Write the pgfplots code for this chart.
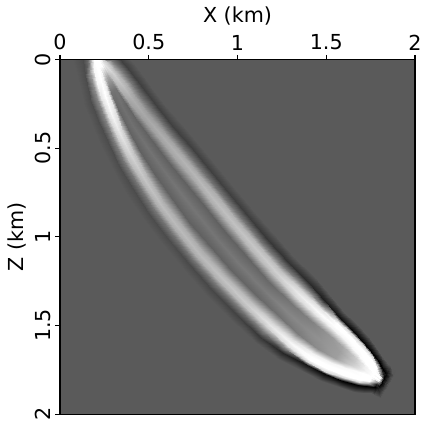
\documentclass[border=0pt]{standalone}
\usepackage{fontspec}
\setmainfont{DejaVu Sans}
\usepackage{pgfplots}
\pgfplotsset{compat=1.18}
\definecolor{bggray}{gray}{0.353}
\begin{document}
\begin{tikzpicture}
\begin{axis}[
  name=ax,
  scale only axis, width=266.25pt, height=266pt,
  xmin=0, xmax=2, ymin=0, ymax=2, y dir=reverse,
  enlargelimits=false,
  axis background/.style={fill=bggray},
  xtick={0,0.5,1,1.5,2}, ytick={0,0.5,1,1.5,2},
  xtick pos=upper, xticklabel pos=upper, ytick pos=left, yticklabel pos=left,
  tick align=outside, major tick length=3.5pt,
  minor tick num=0,
  xlabel={X (km)}, ylabel={Z (km)},
  tick label style={font=\fontsize{15.5}{17}\selectfont},
  label style={font=\fontsize{15.5}{17}\selectfont},
  yticklabel style={rotate=90, anchor=south},
  /pgf/number format/assume math mode=true,
  colormap/blackwhite, point meta min=0, point meta max=1,
  axis line style={line width=0.8pt}, tick style={line width=0.8pt, black},
  axis on top,
]
\addplot[surf, shader=interp, mesh/cols=15, point meta=explicit] table[x=x, y=y, meta=c] {
x y c
0.070 0.000 0.353
0.130 0.000 0.300
0.160 0.000 0.420
0.178 0.000 0.850
0.190 0.000 1.000
0.197 0.000 1.000
0.202 0.000 1.000
0.206 0.000 1.000
0.210 0.000 1.000
0.215 0.000 1.000
0.225 0.000 0.970
0.240 0.000 0.800
0.260 0.000 0.420
0.285 0.000 0.250
0.330 0.000 0.353

0.1006 0.1186 0.353
0.1388 0.0949 0.300
0.1685 0.0764 0.600
0.1923 0.0616 0.970
0.2110 0.0500 1.000
0.2195 0.0447 1.000
0.2246 0.0416 1.000
0.2295 0.0385 1.000
0.2344 0.0354 1.000
0.2395 0.0323 0.950
0.2480 0.0270 0.900
0.2667 0.0154 0.780
0.2905 0.0006 0.450
0.3202 -0.0179 0.250
0.3584 -0.0416 0.353

0.1168 0.1858 0.353
0.1556 0.1630 0.300
0.1858 0.1453 0.550
0.2100 0.1311 0.970
0.2290 0.1200 1.000
0.2445 0.1109 0.950
0.2549 0.1048 0.750
0.2640 0.0995 0.650
0.2731 0.0942 0.650
0.2835 0.0881 0.750
0.2990 0.0790 0.820
0.3180 0.0679 0.720
0.3422 0.0537 0.450
0.3724 0.0360 0.250
0.4112 0.0132 0.353

0.1372 0.2590 0.353
0.1773 0.2386 0.300
0.2085 0.2227 0.515
0.2334 0.2100 0.903
0.2530 0.2000 1.000
0.2726 0.1900 0.918
0.2886 0.1818 0.450
0.3030 0.1745 0.450
0.3174 0.1672 0.450
0.3334 0.1590 0.705
0.3530 0.1490 0.750
0.3726 0.1390 0.690
0.3975 0.1263 0.452
0.4287 0.1104 0.250
0.4688 0.0900 0.353

0.1775 0.3669 0.353
0.2161 0.3437 0.300
0.2461 0.3257 0.507
0.2701 0.3113 0.877
0.2890 0.3000 0.970
0.3079 0.2887 0.885
0.3276 0.2768 0.400
0.3490 0.2640 0.440
0.3704 0.2512 0.400
0.3901 0.2393 0.638
0.4090 0.2280 0.680
0.4279 0.2167 0.631
0.4519 0.2023 0.435
0.4819 0.1843 0.250
0.5205 0.1611 0.353

0.2300 0.4909 0.353
0.2678 0.4664 0.300
0.2971 0.4473 0.490
0.3206 0.4320 0.818
0.3390 0.4200 0.900
0.3574 0.4080 0.824
0.3851 0.3900 0.390
0.4120 0.3725 0.440
0.4389 0.3550 0.390
0.4666 0.3370 0.620
0.4850 0.3250 0.660
0.5034 0.3130 0.614
0.5269 0.2977 0.430
0.5562 0.2786 0.250
0.5940 0.2541 0.353

0.2969 0.6237 0.353
0.3340 0.5982 0.300
0.3628 0.5783 0.470
0.3859 0.5625 0.750
0.4040 0.5500 0.820
0.4221 0.5375 0.754
0.4534 0.5160 0.380
0.4890 0.4915 0.450
0.5246 0.4670 0.380
0.5559 0.4455 0.635
0.5740 0.4330 0.680
0.5921 0.4205 0.631
0.6152 0.4047 0.435
0.6440 0.3848 0.250
0.6811 0.3593 0.353

0.3735 0.7559 0.353
0.4100 0.7296 0.300
0.4384 0.7092 0.457
0.4611 0.6929 0.707
0.4790 0.6800 0.770
0.4969 0.6671 0.712
0.5318 0.6420 0.380
0.5735 0.6120 0.450
0.6152 0.5820 0.380
0.6501 0.5569 0.652
0.6680 0.5440 0.700
0.6859 0.5311 0.648
0.7086 0.5148 0.440
0.7370 0.4944 0.250
0.7735 0.4681 0.353

0.4677 0.8989 0.353
0.5035 0.8716 0.300
0.5313 0.8504 0.450
0.5535 0.8334 0.682
0.5710 0.8200 0.740
0.5885 0.8066 0.686
0.6266 0.7775 0.380
0.6705 0.7440 0.460
0.7144 0.7105 0.380
0.7525 0.6814 0.669
0.7700 0.6680 0.720
0.7875 0.6546 0.665
0.8097 0.6376 0.445
0.8375 0.6164 0.250
0.8733 0.5891 0.353

0.5731 1.0419 0.353
0.6080 1.0136 0.300
0.6352 0.9915 0.447
0.6569 0.9739 0.673
0.6740 0.9600 0.730
0.6911 0.9461 0.678
0.7283 0.9159 0.380
0.7750 0.8780 0.460
0.8217 0.8401 0.380
0.8589 0.8099 0.686
0.8760 0.7960 0.740
0.8931 0.7821 0.682
0.9148 0.7645 0.450
0.9420 0.7424 0.250
0.9769 0.7141 0.353

0.6909 1.1841 0.353
0.7252 1.1550 0.290
0.7519 1.1324 0.447
0.7732 1.1142 0.673
0.7900 1.1000 0.730
0.8068 1.0858 0.678
0.8434 1.0547 0.380
0.8890 1.0160 0.460
0.9346 0.9773 0.380
0.9712 0.9462 0.703
0.9880 0.9320 0.760
1.0048 0.9178 0.699
1.0261 0.8996 0.455
1.0528 0.8770 0.240
1.0871 0.8479 0.353

0.8213 1.3280 0.353
0.8544 1.2975 0.280
0.8802 1.2738 0.455
0.9008 1.2549 0.699
0.9170 1.2400 0.760
0.9332 1.2251 0.705
0.9685 1.1926 0.390
1.0100 1.1545 0.470
1.0515 1.1164 0.390
1.0868 1.0839 0.722
1.1030 1.0690 0.780
1.1192 1.0541 0.716
1.1398 1.0352 0.460
1.1656 1.0115 0.220
1.1987 0.9810 0.353

0.9641 1.4719 0.353
0.9959 1.4401 0.260
1.0206 1.4154 0.465
1.0404 1.3956 0.733
1.0560 1.3800 0.800
1.0716 1.3644 0.740
1.1055 1.3305 0.400
1.1425 1.2935 0.480
1.1795 1.2565 0.410
1.2134 1.2226 0.759
1.2290 1.2070 0.820
1.2446 1.1914 0.750
1.2644 1.1716 0.470
1.2891 1.1469 0.200
1.3209 1.1151 0.353

1.0962 1.5959 0.353
1.1266 1.5627 0.220
1.1502 1.5369 0.490
1.1691 1.5162 0.818
1.1840 1.5000 0.900
1.1989 1.4838 0.831
1.2313 1.4484 0.440
1.2655 1.4110 0.520
1.2997 1.3736 0.460
1.3321 1.3382 0.851
1.3470 1.3220 0.920
1.3619 1.3058 0.835
1.3808 1.2851 0.495
1.4044 1.2593 0.170
1.4348 1.2261 0.353

1.2269 1.6887 0.353
1.2555 1.6540 0.150
1.2733 1.6324 0.507
1.2873 1.6154 0.877
1.3000 1.6000 0.970
1.3127 1.5846 0.880
1.3413 1.5498 0.480
1.3750 1.5090 0.540
1.4087 1.4678 0.500
1.4373 1.4334 0.900
1.4500 1.4180 0.980
1.4627 1.4026 0.886
1.4767 1.3856 0.510
1.4945 1.3640 0.120
1.5231 1.3293 0.353

1.3648 1.7573 0.353
1.3898 1.7223 0.080
1.3997 1.7085 0.850
1.4084 1.6963 1.000
1.4200 1.6800 1.000
1.4316 1.6637 0.950
1.4548 1.6312 0.550
1.4835 1.5910 0.580
1.5122 1.5508 0.580
1.5354 1.5183 0.950
1.5470 1.5020 1.000
1.5586 1.4857 1.000
1.5673 1.4735 0.850
1.5772 1.4597 0.070
1.6022 1.4247 0.353

1.4694 1.8104 0.353
1.4923 1.7740 0.030
1.5014 1.7596 0.850
1.5094 1.7469 1.000
1.5200 1.7300 1.000
1.5306 1.7131 0.960
1.5493 1.6834 0.620
1.5700 1.6505 0.620
1.5907 1.6176 0.650
1.6094 1.5879 0.960
1.6200 1.5710 1.000
1.6306 1.5541 1.000
1.6386 1.5414 0.850
1.6477 1.5270 0.030
1.6706 1.4906 0.353

1.5737 1.8480 0.353
1.5947 1.8104 0.000
1.6030 1.7956 0.850
1.6103 1.7825 1.000
1.6200 1.7650 1.000
1.6297 1.7475 0.980
1.6419 1.7257 0.800
1.6540 1.7040 0.780
1.6661 1.6823 0.800
1.6783 1.6605 0.980
1.6880 1.6430 1.000
1.6977 1.6255 1.000
1.7050 1.6124 0.850
1.7133 1.5976 0.020
1.7343 1.5600 0.353

1.6579 1.8732 0.353
1.6770 1.8346 0.000
1.6845 1.8194 0.850
1.6911 1.8059 1.000
1.7000 1.7880 1.000
1.7089 1.7701 1.000
1.7155 1.7566 0.950
1.7205 1.7465 0.950
1.7255 1.7364 0.950
1.7321 1.7229 1.000
1.7410 1.7050 1.000
1.7499 1.6871 1.000
1.7565 1.6736 0.850
1.7640 1.6584 0.000
1.7831 1.6198 0.353

1.7051 1.8787 0.353
1.7254 1.8408 0.000
1.7334 1.8258 0.700
1.7405 1.8126 1.000
1.7500 1.7950 1.000
1.7547 1.7862 1.000
1.7585 1.7791 1.000
1.7610 1.7745 1.000
1.7635 1.7699 1.000
1.7673 1.7628 1.000
1.7720 1.7540 1.000
1.7815 1.7364 1.000
1.7886 1.7232 0.750
1.7966 1.7082 0.000
1.8169 1.6703 0.353

1.7525 1.8823 0.353
1.7740 1.8450 0.000
1.7825 1.8303 0.150
1.7900 1.8173 0.550
1.7940 1.8104 0.900
1.7970 1.8052 1.000
1.7990 1.8017 1.000
1.8000 1.8000 0.950
1.8010 1.7983 1.000
1.8030 1.7948 1.000
1.8060 1.7896 0.900
1.8100 1.7827 0.550
1.8175 1.7697 0.150
1.8260 1.7550 0.000
1.8475 1.7177 0.353

1.7698 1.8923 0.353
1.7913 1.8550 0.100
1.7998 1.8403 0.030
1.8073 1.8273 0.010
1.8113 1.8204 0.010
1.8143 1.8152 0.020
1.8163 1.8117 0.020
1.8173 1.8100 0.020
1.8183 1.8083 0.020
1.8203 1.8048 0.020
1.8233 1.7996 0.010
1.8273 1.7927 0.010
1.8348 1.7797 0.030
1.8433 1.7650 0.100
1.8648 1.7277 0.353

1.8001 1.9098 0.353
1.8216 1.8725 0.340
1.8301 1.8578 0.330
1.8376 1.8448 0.320
1.8416 1.8379 0.320
1.8446 1.8327 0.320
1.8466 1.8292 0.320
1.8476 1.8275 0.320
1.8486 1.8258 0.320
1.8506 1.8223 0.320
1.8536 1.8171 0.320
1.8576 1.8102 0.320
1.8651 1.7972 0.330
1.8736 1.7825 0.340
1.8951 1.7452 0.353
};
\end{axis}
\pgfresetboundingbox
\useasboundingbox ([shift={(-45pt,-4.5pt)}]ax.south west) rectangle ([shift={(4.5pt,44.6pt)}]ax.north east);
\end{tikzpicture}
\end{document}
